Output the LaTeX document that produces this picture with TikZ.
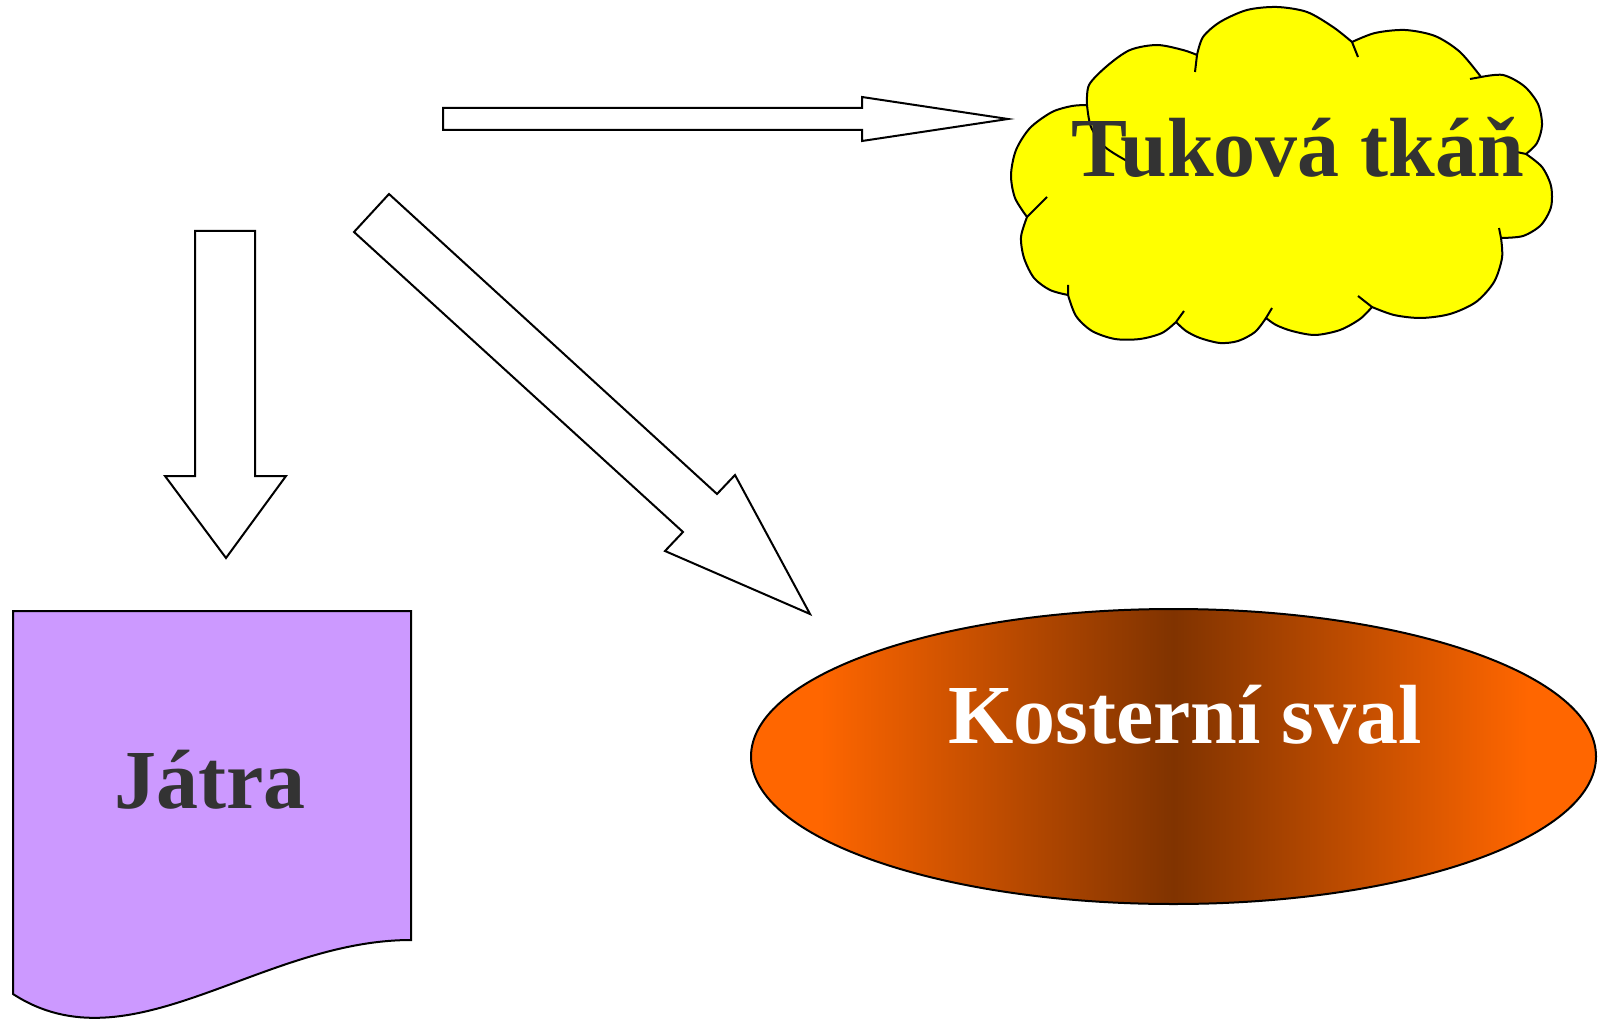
\documentclass[tikz,border=0pt]{standalone}
\usepackage{fontspec}
\setmainfont{Liberation Serif}
\usetikzlibrary{shapes.geometric}
\definecolor{fialova}{RGB}{204,153,255}
\definecolor{zluta}{RGB}{255,255,0}
\definecolor{oranzova}{RGB}{255,102,0}
\definecolor{hneda}{RGB}{128,51,0}
\definecolor{textova}{RGB}{51,51,51}
\pgfdeclarehorizontalshading{svalstin}{100bp}{color(0bp)=(oranzova); color(29bp)=(oranzova); color(50bp)=(hneda); color(71bp)=(oranzova); color(100bp)=(oranzova)}

\begin{document}
\begin{tikzpicture}[x=0.5pt, y=-0.5pt,
    blok/.style={draw=black, fill=white, line width=1pt, line join=miter},
    obrys/.style={draw=black, line width=1pt},
    popis/.style={font=\fontsize{42}{50}\selectfont\bfseries, text=textova, inner sep=0pt, anchor=base}]
    \useasboundingbox (0,0) rectangle (1604,1021);

    % block arrows
    \draw[blok] (443,108) -- (862,108) -- (862,97) -- (1008,119) -- (862,141) -- (862,130) -- (443,130) -- cycle;
    \draw[blok] (195,231) -- (255,231) -- (255,476) -- (286,476) -- (226,558) -- (165,476) -- (195,476) -- cycle;
    \draw[blok] (354,232) -- (389,194) -- (717,494) -- (735,475) -- (810,614) -- (665,551) -- (683,532) -- cycle;

    % liver (document shape)
    \draw[obrys, fill=fialova] (13,611) -- (411,611) -- (411,940) .. controls (260,940) and (130,1070) .. (13,994) -- cycle;
    \node[popis] (jatra) at (210,808) {Játra};

    % cloud
    \draw[obrys, fill=zluta, line join=round] (1087,105)
        -- plot[smooth] coordinates {(1087,105) (1089,85) (1107,66) (1130,50) (1157,45) (1183,50) (1197,55)}
        -- plot[smooth] coordinates {(1197,55) (1203,37) (1220,22) (1247,10) (1277,7) (1307,12) (1333,27) (1352,42)}
        -- plot[smooth] coordinates {(1352,42) (1375,33) (1405,30) (1435,36) (1460,52) (1481,77)}
        -- plot[smooth] coordinates {(1481,77) (1503,75) (1524,86) (1538,104) (1542,125) (1537,143) (1526,154)}
        -- plot[smooth] coordinates {(1526,154) (1542,167) (1551,186) (1551,207) (1541,225) (1523,236) (1501,238)}
        -- plot[smooth] coordinates {(1501,238) (1502,258) (1494,282) (1476,302) (1450,314) (1421,318) (1394,315) (1372,307)}
        -- plot[smooth] coordinates {(1372,307) (1360,319) (1340,330) (1315,335) (1292,331) (1276,325) (1266,318)}
        -- plot[smooth] coordinates {(1266,318) (1255,332) (1238,341) (1220,343) (1200,338) (1186,331) (1176,322)}
        -- plot[smooth] coordinates {(1176,322) (1162,333) (1140,339) (1115,339) (1092,331) (1076,316) (1068,295)}
        -- plot[smooth] coordinates {(1068,295) (1050,290) (1034,278) (1024,258) (1021,237) (1027,217)}
        -- plot[smooth] coordinates {(1027,217) (1015,198) (1011,175) (1016,150) (1030,128) (1052,112) (1072,106) (1087,105)}
        -- cycle;
    \draw[obrys] (1027,217) -- (1047,197) (1197,55) -- (1195,72) (1352,42) -- (1358,57)
        (1481,77) -- (1470,79) (1526,154) -- (1512,151) (1501,238) -- (1499,228)
        (1372,307) -- (1358,296) (1266,318) -- (1272,308) (1176,322) -- (1184,311) (1068,295) -- (1068,285);
    \draw[obrys] plot[smooth] coordinates {(1087,105) (1091,127) (1105,147) (1127,161)};
    \node[popis] (tuk) at (1298,177) {Tuková tkáň};

    % skeletal muscle
    \node[ellipse, draw=black, line width=1pt, shade, shading=svalstin, shading angle=0, minimum width=422.5pt, minimum height=147.5pt, inner sep=0pt] (sval) at (1173.5,756.5) {};
    \node[popis, text=white] (svaltext) at (1185,743) {Kosterní sval};
\end{tikzpicture}
\end{document}
